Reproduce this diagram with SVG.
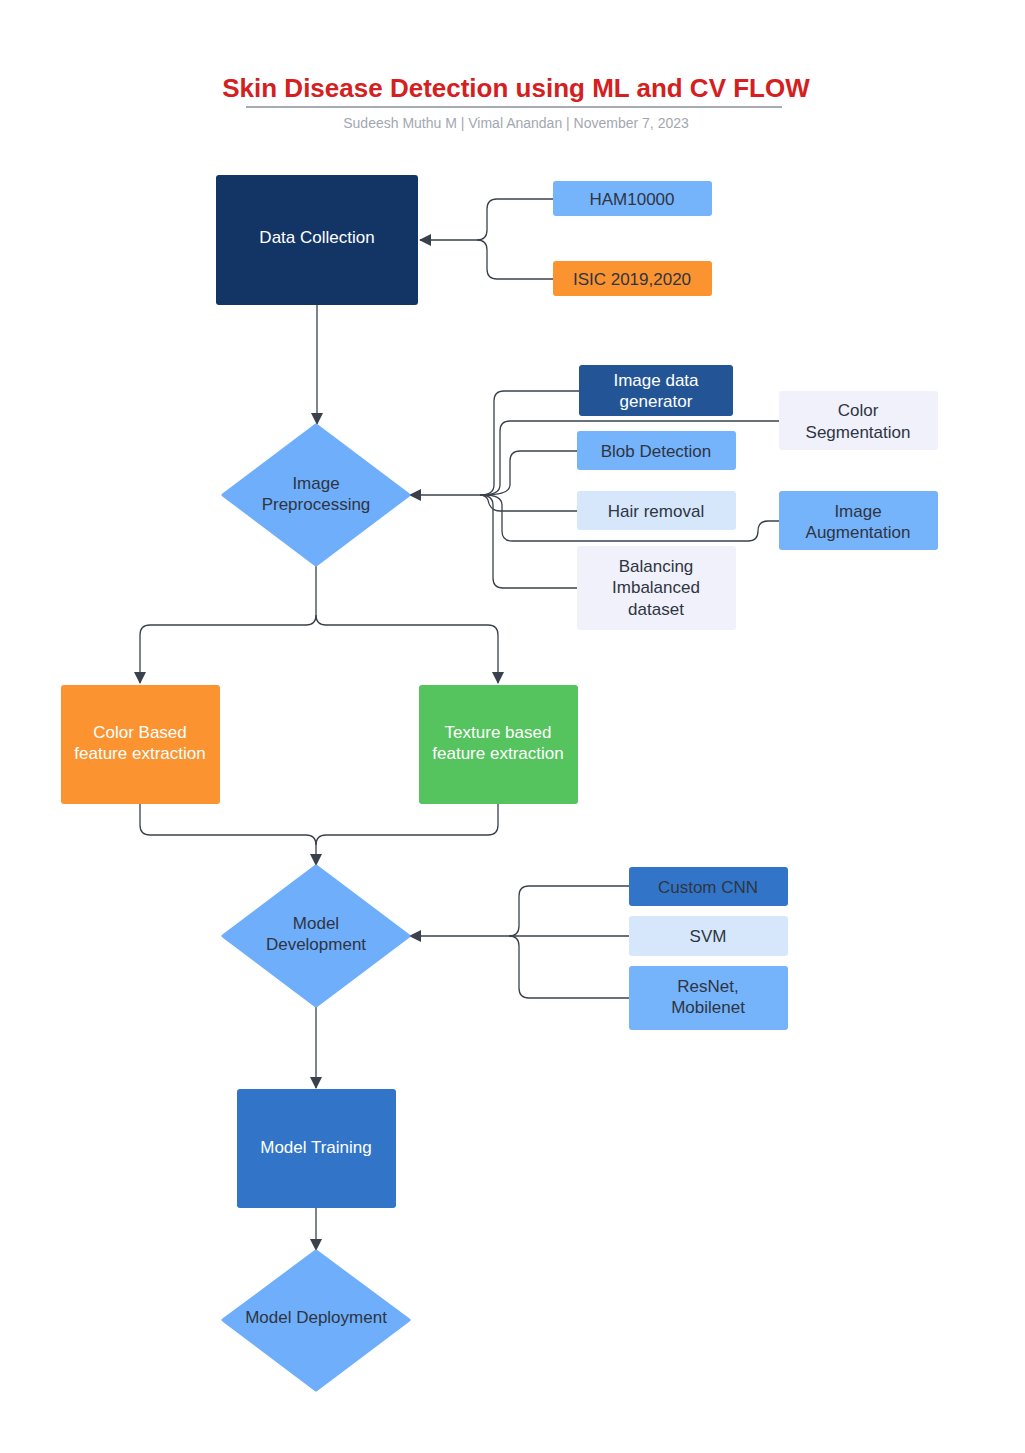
<svg xmlns="http://www.w3.org/2000/svg" width="1025" height="1453" viewBox="0 0 1025 1453">
<defs>
<marker id="ah" markerWidth="12" markerHeight="12" refX="11" refY="6" orient="auto" markerUnits="userSpaceOnUse">
<path d="M0,0 L12,6 L0,12 Z" fill="#3a414c"/>
</marker>
<style>
text{font-family:"Liberation Sans",Arial,sans-serif;font-size:17px;text-anchor:middle}
.w{fill:#ffffff}
.d{fill:#2f3542}
.c{fill:none;stroke:#3a414c;stroke-width:1.3}
</style>
</defs>
<rect width="1025" height="1453" fill="#ffffff"/>
<text x="516" y="97" style="font-size:26px;font-weight:bold;fill:#d42020">Skin Disease Detection using ML and CV FLOW</text>
<line x1="246" y1="107" x2="782" y2="107" stroke="#a8abb3" stroke-width="2"/>
<text x="516" y="128" style="font-size:14px;fill:#a3a7b0">Sudeesh Muthu M | Vimal Anandan  |  November 7, 2023</text>

<g id="connectors">
<path class="c" d="M553,199 H497 Q487,199 487,209 V230 Q487,240 477,240 H420" marker-end="url(#ah)"/>
<path class="c" d="M553,279 H497 Q487,279 487,269 V250 Q487,240 477,240"/>
<path class="c" d="M317,305 V424" marker-end="url(#ah)"/>
<path class="c" d="M480,495 H410" marker-end="url(#ah)"/>
<path class="c" d="M579,391 H504 Q494,391 494,401 V485 Q494,495 480,495"/>
<path class="c" d="M779,421 H510 Q500,421 500,431 V485 Q500,495 482,495"/>
<path class="c" d="M577,451 H520 Q510,451 510,461 V485 Q510,495 484,495"/>
<path class="c" d="M577,511 H500 Q490,511 488,500 Q486,495 480,495"/>
<path class="c" d="M779,521 H768 Q758,521 758,531 Q758,541 748,541 H512 Q502,541 502,531 V505 Q502,495 484,495"/>
<path class="c" d="M577,588 H503 Q493,588 493,578 V505 Q493,495 480,495"/>
<path class="c" d="M316,565 V615 Q316,625 306,625 H150 Q140,625 140,635 V683" marker-end="url(#ah)"/>
<path class="c" d="M316,615 Q316,625 326,625 H488 Q498,625 498,635 V683" marker-end="url(#ah)"/>
<path class="c" d="M140,804 V825 Q140,835 150,835 H306 Q316,835 316,845 V865" marker-end="url(#ah)"/>
<path class="c" d="M498,804 V825 Q498,835 488,835 H326 Q316,835 316,845"/>
<path class="c" d="M629,886 H529 Q519,886 519,896 V926 Q519,936 509,936 H410" marker-end="url(#ah)"/>
<path class="c" d="M629,936 H509"/>
<path class="c" d="M629,998 H529 Q519,998 519,988 V946 Q519,936 509,936"/>
<path class="c" d="M316,1006 V1088" marker-end="url(#ah)"/>
<path class="c" d="M316,1208 V1250" marker-end="url(#ah)"/>
</g>

<g id="data-collection"><rect x="216" y="175" width="202" height="130" rx="3" fill="#123566"/><text class="w" x="317" y="243">Data Collection</text></g>
<g id="ham"><rect x="553" y="181" width="159" height="35" rx="3" fill="#75b3fb"/><text class="d" x="632" y="205">HAM10000</text></g>
<g id="isic"><rect x="553" y="261" width="159" height="35" rx="3" fill="#fa9330"/><text class="d" x="632" y="285">ISIC 2019,2020</text></g>

<g id="image-preprocessing"><path d="M316,425 L409,495 L316,565 L223,495 Z" fill="#6eaefb" stroke="#6eaefb" stroke-width="3" stroke-linejoin="round"/><text class="d" x="316" y="489">Image</text><text class="d" x="316" y="510">Preprocessing</text></g>
<g id="idg"><rect x="579" y="365" width="154" height="51" rx="3" fill="#235596"/><text class="w" x="656" y="386">Image data</text><text class="w" x="656" y="407">generator</text></g>
<g id="colorseg"><rect x="779" y="391" width="159" height="59" rx="3" fill="#f0f1fb"/><text class="d" x="858" y="416">Color</text><text class="d" x="858" y="438">Segmentation</text></g>
<g id="blob"><rect x="577" y="431" width="159" height="39" rx="3" fill="#75b3fb"/><text class="d" x="656" y="457">Blob Detection</text></g>
<g id="hair"><rect x="577" y="491" width="159" height="39" rx="3" fill="#d6e7fc"/><text class="d" x="656" y="517">Hair removal</text></g>
<g id="aug"><rect x="779" y="491" width="159" height="59" rx="3" fill="#75b3fb"/><text class="d" x="858" y="517">Image</text><text class="d" x="858" y="538">Augmentation</text></g>
<g id="balancing"><rect x="577" y="546" width="159" height="84" rx="3" fill="#f0f1fb"/><text class="d" x="656" y="572">Balancing</text><text class="d" x="656" y="593">Imbalanced</text><text class="d" x="656" y="615">dataset</text></g>

<g id="color-feat"><rect x="61" y="685" width="159" height="119" rx="3" fill="#fa9330"/><text class="w" x="140" y="738">Color Based</text><text class="w" x="140" y="759">feature extraction</text></g>
<g id="texture-feat"><rect x="419" y="685" width="159" height="119" rx="3" fill="#55c35e"/><text class="w" x="498" y="738">Texture based</text><text class="w" x="498" y="759">feature extraction</text></g>

<g id="model-dev"><path d="M316,866 L409,936 L316,1006 L223,936 Z" fill="#6eaefb" stroke="#6eaefb" stroke-width="3" stroke-linejoin="round"/><text class="d" x="316" y="929">Model</text><text class="d" x="316" y="950">Development</text></g>
<g id="cnn"><rect x="629" y="867" width="159" height="39" rx="3" fill="#3275c8"/><text class="d" x="708" y="893">Custom CNN</text></g>
<g id="svm"><rect x="629" y="916" width="159" height="40" rx="3" fill="#d6e7fc"/><text class="d" x="708" y="942">SVM</text></g>
<g id="resnet"><rect x="629" y="966" width="159" height="64" rx="3" fill="#75b3fb"/><text class="d" x="708" y="992">ResNet,</text><text class="d" x="708" y="1013">Mobilenet</text></g>

<g id="model-training"><rect x="237" y="1089" width="159" height="119" rx="3" fill="#3275c8"/><text class="w" x="316" y="1153">Model Training</text></g>
<g id="model-deploy"><path d="M316,1251 L409,1320 L316,1390 L223,1320 Z" fill="#6eaefb" stroke="#6eaefb" stroke-width="3" stroke-linejoin="round"/><text class="d" x="316" y="1323">Model Deployment</text></g>
</svg>
